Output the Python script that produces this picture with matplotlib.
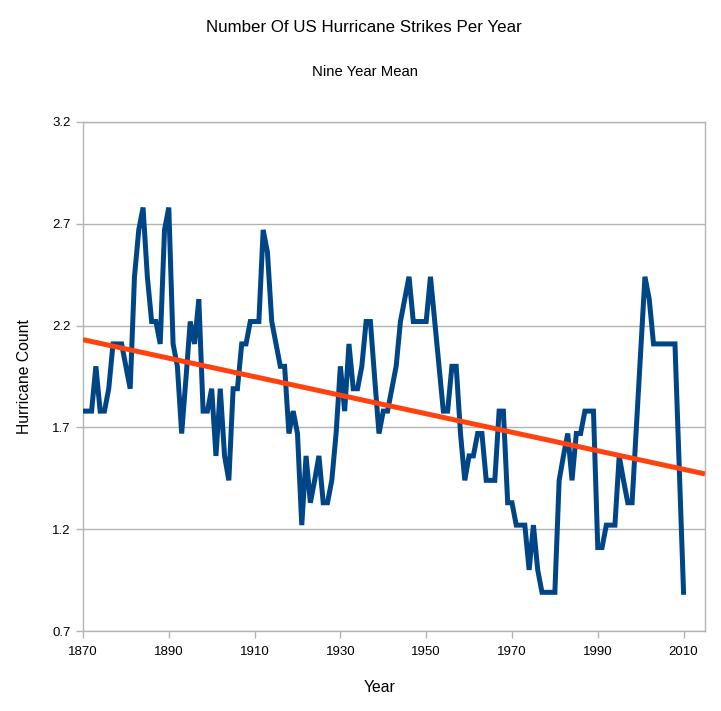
import numpy as np
import matplotlib
matplotlib.use("Agg")
import matplotlib.pyplot as plt

plt.rcParams['font.family'] = ['Liberation Sans', 'DejaVu Sans']

years = list(range(1870, 2011))
nine_year_mean = [
    1.78, 1.78, 1.78, 2.00, 1.78, 1.78, 1.89, 2.11, 2.11, 2.11,   # 1870-1879
    2.00, 1.89, 2.44, 2.67, 2.78, 2.44, 2.22, 2.22, 2.11, 2.67,   # 1880-1889
    2.78, 2.11, 2.00, 1.67, 1.94, 2.22, 2.11, 2.33, 1.78, 1.78,   # 1890-1899
    1.89, 1.56, 1.89, 1.56, 1.44, 1.89, 1.89, 2.11, 2.11, 2.22,   # 1900-1909
    2.22, 2.22, 2.67, 2.56, 2.22, 2.11, 2.00, 2.00, 1.67, 1.78,   # 1910-1919
    1.67, 1.22, 1.56, 1.33, 1.44, 1.56, 1.33, 1.33, 1.44, 1.67,   # 1920-1929
    2.00, 1.78, 2.11, 1.89, 1.89, 2.00, 2.22, 2.22, 1.94, 1.67,   # 1930-1939
    1.78, 1.78, 1.89, 2.00, 2.22, 2.33, 2.44, 2.22, 2.22, 2.22,   # 1940-1949
    2.22, 2.44, 2.22, 2.00, 1.78, 1.78, 2.00, 2.00, 1.67, 1.44,   # 1950-1959
    1.56, 1.56, 1.67, 1.67, 1.44, 1.44, 1.44, 1.78, 1.78, 1.33,   # 1960-1969
    1.33, 1.22, 1.22, 1.22, 1.00, 1.22, 1.00, 0.89, 0.89, 0.89,   # 1970-1979
    0.89, 1.44, 1.56, 1.67, 1.44, 1.67, 1.67, 1.78, 1.78, 1.78,   # 1980-1989
    1.11, 1.11, 1.22, 1.22, 1.22, 1.56, 1.44, 1.33, 1.33, 1.70,   # 1990-1999
    2.07, 2.44, 2.33, 2.11, 2.11, 2.11, 2.11, 2.11, 2.11, 1.50,   # 2000-2009
    0.89,                                                         # 2010
]
x_ticks = [1870, 1890, 1910, 1930, 1950, 1970, 1990, 2010]
y_ticks = [0.7, 1.2, 1.7, 2.2, 2.7, 3.2]

title = "Number Of US Hurricane Strikes Per Year"
subtitle = "Nine Year Mean"
x_label = "Year"
y_label = "Hurricane Count"

fig = plt.figure(figsize=(7.21, 7.11), dpi=100)
ax = fig.add_axes([83 / 721, 1 - 631 / 711, (705 - 83) / 721, (631 - 122) / 711])

grid_c = "#b3b3b3"
ax.set_xlim(1870, 2015)
ax.set_ylim(0.7, 3.2)
ax.set_xticks(x_ticks)
ax.set_yticks(y_ticks)
ax.set_yticklabels([f"{v:.1f}" for v in y_ticks])
ax.grid(axis='y', color=grid_c, linewidth=1.0)
ax.set_axisbelow(True)
for s in ax.spines.values():
    s.set_color(grid_c)
    s.set_linewidth(1.0)
ax.tick_params(axis='both', colors=grid_c, labelcolor='black', labelsize=9.5,
               length=5, width=1.0, direction='out')
ax.tick_params(axis='x', pad=6)
ax.tick_params(axis='y', pad=4)

ax.plot(years, nine_year_mean, color="#004586", linewidth=3.6,
        solid_joinstyle='miter', zorder=3)

coef = np.polyfit(years, nine_year_mean, 1)
tx = np.array([1870, 2015])
ax.plot(tx, np.polyval(coef, tx), color="#ff420e", linewidth=3.6, zorder=4,
        solid_capstyle='butt')

fig.text(364 / 721, 1 - 27 / 711, title, ha='center', va='center', fontsize=12.2)
fig.text(365 / 721, 1 - 72 / 711, subtitle, ha='center', va='center', fontsize=10.7)
fig.text(380 / 721, 1 - 688 / 711, x_label, ha='center', va='center', fontsize=11.3)
fig.text(25 / 721, 1 - 377 / 711, y_label, ha='center', va='center', fontsize=11.3,
         rotation=90)

fig.savefig("out.png", dpi=100)
